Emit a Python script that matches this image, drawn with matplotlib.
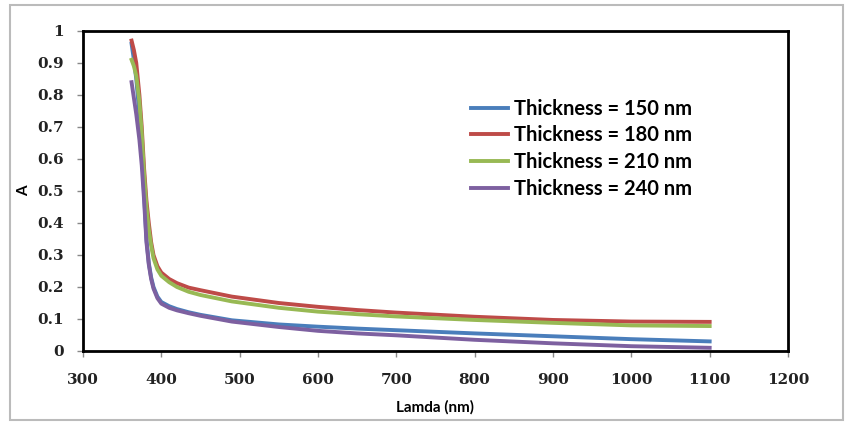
import numpy as np
import matplotlib
matplotlib.use('Agg')
import matplotlib.pyplot as plt
from matplotlib.patches import Rectangle

# wavelength (nm)
lam = [362, 365, 368, 372, 375, 378, 381, 384, 387, 390, 395, 400, 410, 420,
       435, 450, 490, 550, 600, 650, 700, 800, 900, 1000, 1100]

a150 = [0.96, 0.91, 0.85, 0.74, 0.63, 0.49, 0.35, 0.275, 0.23, 0.20, 0.17,
        0.153, 0.140, 0.131, 0.121, 0.113, 0.096, 0.083, 0.076, 0.070, 0.065,
        0.055, 0.046, 0.037, 0.030]
a180 = [0.97, 0.94, 0.90, 0.80, 0.70, 0.57, 0.47, 0.40, 0.34, 0.30, 0.265,
        0.245, 0.225, 0.212, 0.198, 0.190, 0.170, 0.150, 0.138, 0.128, 0.120,
        0.107, 0.097, 0.092, 0.091]
a210 = [0.91, 0.89, 0.86, 0.78, 0.68, 0.55, 0.45, 0.38, 0.33, 0.29, 0.255,
        0.235, 0.215, 0.200, 0.185, 0.175, 0.155, 0.135, 0.123, 0.115, 0.108,
        0.097, 0.088, 0.080, 0.078]
a240 = [0.84, 0.79, 0.74, 0.66, 0.58, 0.47, 0.34, 0.27, 0.225, 0.195, 0.165,
        0.148, 0.135, 0.127, 0.118, 0.110, 0.092, 0.075, 0.063, 0.055, 0.049,
        0.035, 0.024, 0.015, 0.010]

labels = ['Thickness = 150 nm', 'Thickness = 180 nm',
          'Thickness = 210 nm', 'Thickness = 240 nm']
colors = ['#4a7ebb', '#be4b48', '#98b954', '#7d60a0']

fig = plt.figure(figsize=(8.53, 4.22), dpi=100)
ax = fig.add_axes([83/853, 1-351/422, (788-83)/853, (351-31)/422])

for y, lab, c in zip([a150, a180, a210, a240], labels, colors):
    ax.plot(lam, y, color=c, lw=2.8, label=lab)

ax.set_xlim(300, 1200)
ax.set_ylim(0, 1)
ax.set_xticks(np.arange(300, 1201, 100))
ax.set_yticks(np.arange(0, 1.01, 0.1))
ax.set_yticklabels(['0', '0.1', '0.2', '0.3', '0.4', '0.5', '0.6', '0.7', '0.8', '0.9', '1'])

for s in ax.spines.values():
    s.set_linewidth(2)
ax.tick_params(direction='out', length=4, width=1, color='#888888',
               labelsize=11)
for t in ax.get_xticklabels() + ax.get_yticklabels():
    t.set_fontweight('bold')
    t.set_family('DejaVu Serif')
    t.set_color('#222222')
ax.tick_params(axis='x', pad=12)
ax.tick_params(axis='y', pad=10)

ax.set_xlabel('Lamda (nm)', fontsize=11, fontweight='bold', family='Lato', labelpad=9)
ax.set_ylabel('A', fontsize=11, fontweight='bold', family='Lato', labelpad=4)

leg = ax.legend(loc='upper left', bbox_to_anchor=(0.525, 0.845), frameon=False,
                prop={'family': 'Lato', 'weight': 'bold', 'size': 14.5},
                handlelength=1.8, handletextpad=0.3, labelspacing=0.33)

fig.patches.append(Rectangle((10/853, 1-420/422), (843-10)/853, (420-5)/422,
                             transform=fig.transFigure, fill=False,
                             edgecolor='#bbbbbb', lw=1.5))

fig.savefig('out.png', dpi=100)
